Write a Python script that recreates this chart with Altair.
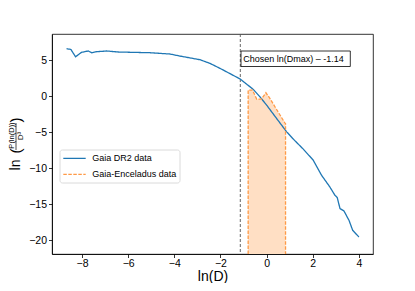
import altair as alt
import pandas as pd

FONT = "Liberation Sans"

# Gaia DR2 curve
dr2_x = [-8.67, -8.48, -8.28, -8.02, -7.73, -7.58, -7.37, -6.93, -6.43, -5.06, -4.19, -3.76,
         -2.89, -2.46, -2.02, -1.14, -0.58, -0.29, 0.0, 0.43, 0.87, 1.2, 1.59, 2.02, 2.38,
         2.74, 2.96, 3.06, 3.18, 3.35, 3.57, 3.73, 4.0]
dr2_y = [6.61, 6.50, 5.49, 6.11, 6.29, 6.05, 6.19, 6.29, 6.15, 6.05, 5.87, 5.59,
         5.08, 4.58, 3.88, 2.39, 0.96, -0.07, -1.22, -3.07, -4.94, -6.09, -7.34, -8.87, -10.96,
         -12.59, -13.74, -14.06, -15.59, -15.92, -17.22, -18.61, -19.54]

# Gaia-Enceladus curve
enc_x = [-0.80, -0.61, -0.43, -0.22, -0.03, 0.14, 0.36, 0.58, 0.79, 0.82]
enc_y = [0.86, 0.86, -0.39, -0.39, 0.49, -0.29, -1.45, -2.6, -3.69, -3.8]

DMAX = -1.14
X_DOMAIN = [-9.30, 4.61]
Y_DOMAIN = [-21.9, 8.65]
X_TICKS = [-8, -6, -4, -2, 0, 2, 4]
Y_TICKS = [-20, -15, -10, -5, 0, 5]
SERIES = ["Gaia DR2 data", "Gaia-Enceladus data"]
COLORS = ["#1f77b4", "#ff9a47"]
DASHES = [[1, 0], [3.5, 1.5]]

W, H = 321, 220

rows = []
for i, (x, y) in enumerate(zip(dr2_x, dr2_y)):
    rows.append({"x": x, "y": y, "s": SERIES[0], "i": i})
enc_px = [enc_x[0]] + enc_x + [enc_x[-1]]
enc_py = [Y_DOMAIN[0]] + enc_y + [Y_DOMAIN[0]]
for i, (x, y) in enumerate(zip(enc_px, enc_py)):
    rows.append({"x": x, "y": y, "s": SERIES[1], "i": i})
df = pd.DataFrame(rows)
fill_df = pd.DataFrame({"x": enc_x, "y": enc_y})

xs = alt.Scale(domain=X_DOMAIN, nice=False, zero=False)
ys = alt.Scale(domain=Y_DOMAIN, nice=False, zero=False)
cs = alt.Scale(domain=SERIES, range=COLORS)
ds = alt.Scale(domain=SERIES, range=DASHES)

xax = alt.Axis(values=X_TICKS, title="ln(D)", grid=False, titleFontSize=14,
               titleFontWeight="normal", titlePadding=0, labelPadding=1, format="d")
yax = alt.Axis(values=Y_TICKS, title=None, grid=False, labelPadding=2, format="d")

fill = alt.Chart(fill_df).mark_area(color="#ffdfc4", opacity=1, interpolate="linear").encode(
    x=alt.X("x:Q", scale=xs, axis=xax),
    y=alt.Y("y:Q", scale=ys, axis=yax),
    y2=alt.datum(Y_DOMAIN[0]),
)

lines = alt.Chart(df).mark_line(strokeWidth=1.3, clip=True).encode(
    x=alt.X("x:Q", scale=xs),
    y=alt.Y("y:Q", scale=ys),
    order="i:Q",
    color=alt.Color("s:N", scale=cs, legend=None),
    strokeDash=alt.StrokeDash("s:N", scale=ds, legend=None),
)

vline = alt.Chart(pd.DataFrame({"x": [DMAX]})).mark_rule(
    color="#555555", strokeDash=[3, 2], strokeWidth=0.9).encode(
    x=alt.X("x:Q", scale=xs), y=alt.value(0), y2=alt.value(H))

box = alt.Chart(pd.DataFrame({"x": [DMAX]})).mark_rect(
    fill="white", stroke="black", strokeWidth=0.8, x2Offset=110, xOffset=0.7).encode(
    x=alt.X("x:Q", scale=xs), x2=alt.X2("x:Q"), y=alt.value(17), y2=alt.value(32.5))

label = alt.Chart(pd.DataFrame({"x": [DMAX], "t": ["Chosen ln(Dmax) – -1.14"]})).mark_text(
    align="left", baseline="middle", dx=3, fontSize=9, font=FONT, color="black").encode(
    x=alt.X("x:Q", scale=xs), y=alt.value(25), text="t:N")

# legend (drawn by hand, matplotlib style)
leg_box = alt.Chart(pd.DataFrame({"a": [0]})).mark_rect(
    fill="white", fillOpacity=0.8, stroke="#d0d0d0", strokeWidth=0.8, cornerRadius=2.5).encode(
    x=alt.value(8), x2=alt.value(128), y=alt.value(116), y2=alt.value(149))
leg_layers = []
for k, (name, yy) in enumerate(zip(SERIES, [124.3, 140.3])):
    d = pd.DataFrame({"s": [name]})
    leg_layers.append(alt.Chart(d).mark_rule(strokeWidth=1.3).encode(
        x=alt.value(11.3), x2=alt.value(33.7), y=alt.value(yy),
        color=alt.Color("s:N", scale=cs, legend=None),
        strokeDash=alt.StrokeDash("s:N", scale=ds, legend=None)))
    leg_layers.append(alt.Chart(d).mark_text(
        align="left", baseline="middle", fontSize=9, font=FONT, color="black").encode(
        x=alt.value(40.3), y=alt.value(yy), text="s:N"))

def tx(text, x, y, size):
    return alt.Chart(pd.DataFrame({"t": [text]})).mark_text(
        angle=270, align="center", baseline="middle", fontSize=size, font=FONT,
        color="black").encode(x=alt.value(x), y=alt.value(y), text="t:N")

ytitle = [
    tx("ln", -36, 131, 14),
    tx("(", -36.5, 117, 15),
    tx("P(ln(D))", -40.5, 101.5, 7.5),
    tx("D³", -31.5, 102, 8),
    tx(")", -36.5, 86, 15),
]
bar = alt.Chart(pd.DataFrame({"a": [0]})).mark_rule(color="black", strokeWidth=0.7).encode(
    x=alt.value(-36), y=alt.value(89), y2=alt.value(116))

chart = alt.layer(fill, vline, lines, box, label, leg_box, *leg_layers, bar, *ytitle).properties(
    width=W, height=H,
    autosize=alt.AutoSizeParams(type="none"),
    padding={"left": 44, "top": 26, "right": 34, "bottom": 29},
).configure_view(stroke="black", strokeWidth=0.8).configure_axis(
    domainColor="black", domainWidth=0.8, tickColor="black", tickWidth=0.8, tickSize=3.5,
    labelFont=FONT, titleFont=FONT, labelFontSize=10.5, labelColor="black", titleColor="black",
)

chart.save("out.html", embed_options={"renderer": "svg", "actions": False})
